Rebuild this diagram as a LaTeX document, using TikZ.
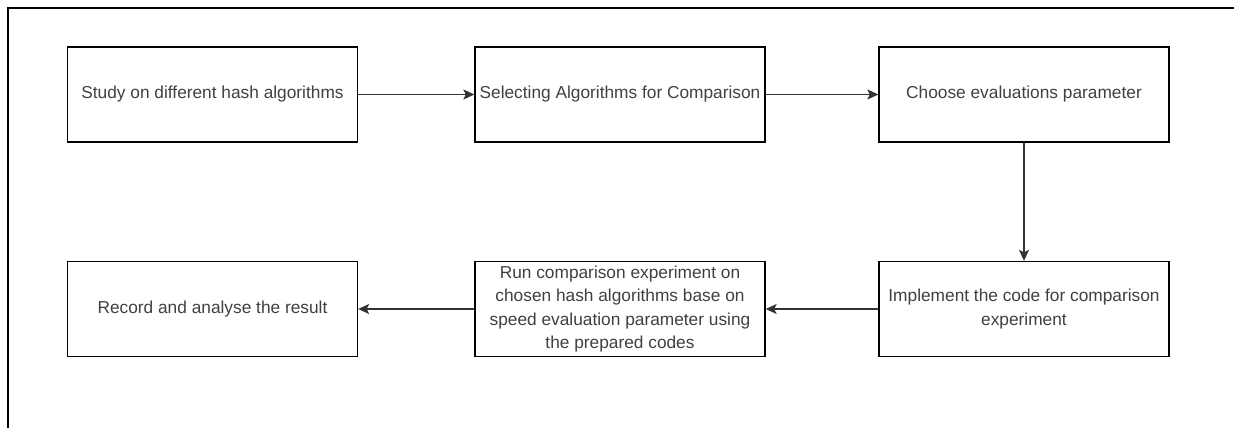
\documentclass[tikz,border=0pt]{standalone}
\usepackage{fontspec}
\setmainfont{Liberation Sans}
\usepackage{tikz}
\usetikzlibrary{arrows.meta, positioning}

\begin{document}
\begin{tikzpicture}[x=1pt, y=-1pt,
      stepbox/.style={rectangle, draw, line width=1.3pt, minimum width=290pt, minimum height=95pt, align=center,
        font=\fontsize{17.3}{23.5}\selectfont, text=black!75},
      flow/.style={-{Stealth[length=11pt, width=10pt, inset=2.5pt]}, line width=1.3pt, draw=black!80}]

      \useasboundingbox (0,0) rectangle (1234,428);
      % frame of the screenshot
      \draw[line width=1.5pt] (8,428) -- (8,8) -- (1234,8);

      % first row
      \node[stepbox] (study) at (212.5,94.5) {Study on different hash algorithms};
      \node[stepbox] (select) at (620,94.5) {Selecting Algorithms for Comparison};
      \node[stepbox] (choose) at (1024,94.5) {Choose evaluations parameter};

      % second row
      \node[stepbox] (implement) at (1024,309) {Implement the code for comparison\\experiment};
      \node[stepbox, inner sep=1pt] (run) at (620,309) {Run comparison experiment on\\chosen hash algorithms base on\\speed evaluation parameter using\\the prepared codes};
      \node[stepbox] (record) at (212.5,309) {Record and analyse the result};

      % connectors
      \draw[flow] (study) -- (select);
      \draw[flow] (select) -- (choose);
      \draw[flow] (choose) -- (implement);
      \draw[flow] (implement) -- (run);
      \draw[flow] (run) -- (record);
\end{tikzpicture}
\end{document}
